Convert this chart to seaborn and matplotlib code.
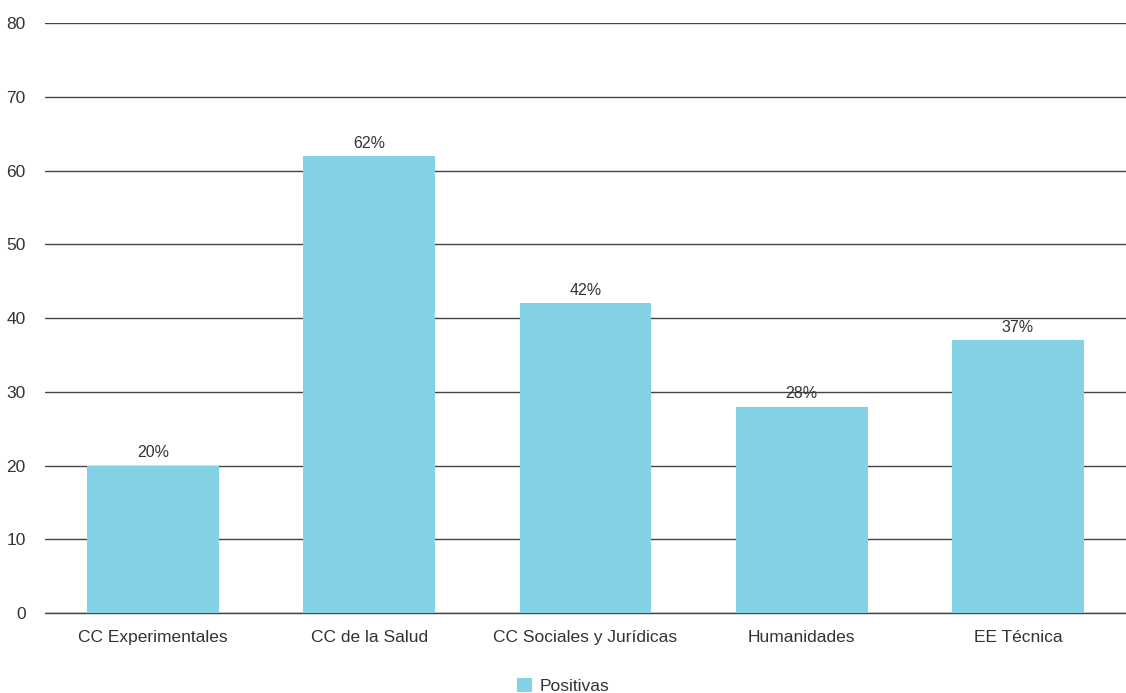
import matplotlib
matplotlib.use("Agg")
import matplotlib.pyplot as plt
import seaborn as sns
import pandas as pd
from matplotlib.patches import Patch

categories = ["CC Experimentales", "CC de la Salud", "CC Sociales y Jurídicas", "Humanidades", "EE Técnica"]
positivas = [20, 62, 42, 28, 37]
yticks = [0, 10, 20, 30, 40, 50, 60, 70, 80]

sns.set_theme(style="white")
plt.rcParams['font.family'] = ['Liberation Sans Narrow', 'Liberation Sans', 'DejaVu Sans']

df = pd.DataFrame({"cat": categories, "val": positivas})
color = "#82d1e5"
text_color = "#333333"

fig = plt.figure(figsize=(11.26, 6.93), dpi=100)
ax = fig.add_axes([0.04, 0.1154, 0.96, 0.8514])
sns.barplot(data=df, x="cat", y="val", color=color, width=0.61, saturation=1, ax=ax,
            zorder=2, linewidth=0, edgecolor="none")

ax.set_ylim(0, 80)
ax.set_xlim(-0.5, 4.5)
ax.set_yticks(yticks)
ax.yaxis.grid(True, color="#444444", linewidth=1.0, zorder=0)
ax.set_axisbelow(True)
ax.axhline(0, color="#444444", linewidth=1.0, zorder=1, clip_on=False)
for s in ax.spines.values():
    s.set_visible(False)
ax.tick_params(axis='both', length=0, labelsize=12.5, colors=text_color)
ax.tick_params(axis='x', pad=12.5)
ax.tick_params(axis='y', pad=14)
ax.set_xlabel("")
ax.set_ylabel("")

for i, v in enumerate(positivas):
    ax.text(i, v + 0.7, f"{v}%", ha="center", va="bottom", fontsize=11.5, color=text_color)

handle = Patch(facecolor=color, edgecolor="none")
fig.legend([handle], ["Positivas"], loc="lower center", bbox_to_anchor=(0.5, -0.024), frameon=False,
           fontsize=12.5, handlelength=0.9, handleheight=0.9, handletextpad=0.4, labelcolor=text_color)

fig.savefig("out.png", dpi=100)
